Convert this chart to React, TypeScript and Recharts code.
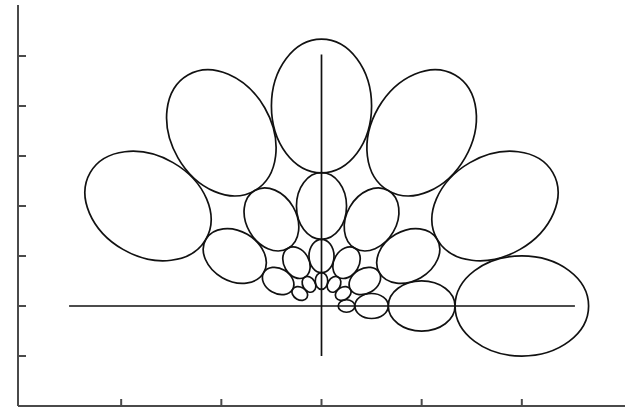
import { ScatterChart, Scatter, XAxis, YAxis, ReferenceLine } from 'recharts';

// polar layout of the fields: eccentricity (x-axis units) and polar angle (deg)
const ECCENTRICITIES = [2, 1, 0.5, 0.25];
const POLAR_ANGLES = [0, 30, 60, 90, 120, 150];
const FIX_X = 3;
const FIX_Y = 2;
// one x unit spans the same length as two y units
const Y_PER_X = 2;

const X_TICKS = [1, 2, 3, 4, 5];
const Y_TICKS = [1, 2, 3, 4, 5, 6, 7];
const X_DOMAIN: [number, number] = [-0.03, 6.03];
const Y_DOMAIN: [number, number] = [0, 8.02];

const H_MERIDIAN = [0.48, 5.53];
const V_MERIDIAN = [1, 7.03];

const W = 633;
const H = 409;
const AXIS_BOX = 1;
const MARGIN = { top: 5, right: 8, bottom: 3 - AXIS_BOX, left: 18 - AXIS_BOX };
const PX_PER_X = (W - 18 - MARGIN.right) / (X_DOMAIN[1] - X_DOMAIN[0]);

// ellipse semi-axes as a fraction of eccentricity
const RADIAL = 1 / 3;
const TANGENTIAL = 1 / 4;

const fields = ECCENTRICITIES.flatMap((ecc) =>
  POLAR_ANGLES.map((angle) => {
    const a = (angle * Math.PI) / 180;
    return {
      x: FIX_X + ecc * Math.cos(a),
      y: FIX_Y + ecc * Y_PER_X * Math.sin(a),
      ecc,
      angle,
    };
  }),
);

function FieldEllipse(props: any) {
  const { cx, cy, payload } = props;
  const d = payload.ecc * PX_PER_X;
  return (
    <ellipse
      cx={cx}
      cy={cy}
      rx={d * RADIAL}
      ry={d * TANGENTIAL}
      transform={`rotate(${-payload.angle} ${cx} ${cy})`}
      fill="none"
      stroke="#111"
      strokeWidth={1.7}
    />
  );
}

const axisStroke = { stroke: '#4a4a4a', strokeWidth: 2 };

export default function App() {
  return (
    <div style={{ position: 'absolute', left: 0, top: 0, background: '#fff' }}>
      <ScatterChart width={W} height={H} margin={MARGIN}>
        <XAxis
          type="number"
          dataKey="x"
          domain={X_DOMAIN}
          ticks={X_TICKS}
          height={AXIS_BOX}
          tickSize={-7}
          tickFormatter={() => ''}
          axisLine={axisStroke}
          tickLine={axisStroke}
        />
        <YAxis
          type="number"
          dataKey="y"
          domain={Y_DOMAIN}
          ticks={Y_TICKS}
          width={AXIS_BOX}
          tickSize={-8}
          tickFormatter={() => ''}
          axisLine={axisStroke}
          tickLine={axisStroke}
        />
        <ReferenceLine
          segment={[{ x: H_MERIDIAN[0], y: FIX_Y }, { x: H_MERIDIAN[1], y: FIX_Y }]}
          stroke="#111"
          strokeWidth={1.7}
        />
        <ReferenceLine
          segment={[{ x: FIX_X, y: V_MERIDIAN[0] }, { x: FIX_X, y: V_MERIDIAN[1] }]}
          stroke="#111"
          strokeWidth={1.7}
        />
        <Scatter data={fields} shape={FieldEllipse} isAnimationActive={false} />
      </ScatterChart>
    </div>
  );
}
